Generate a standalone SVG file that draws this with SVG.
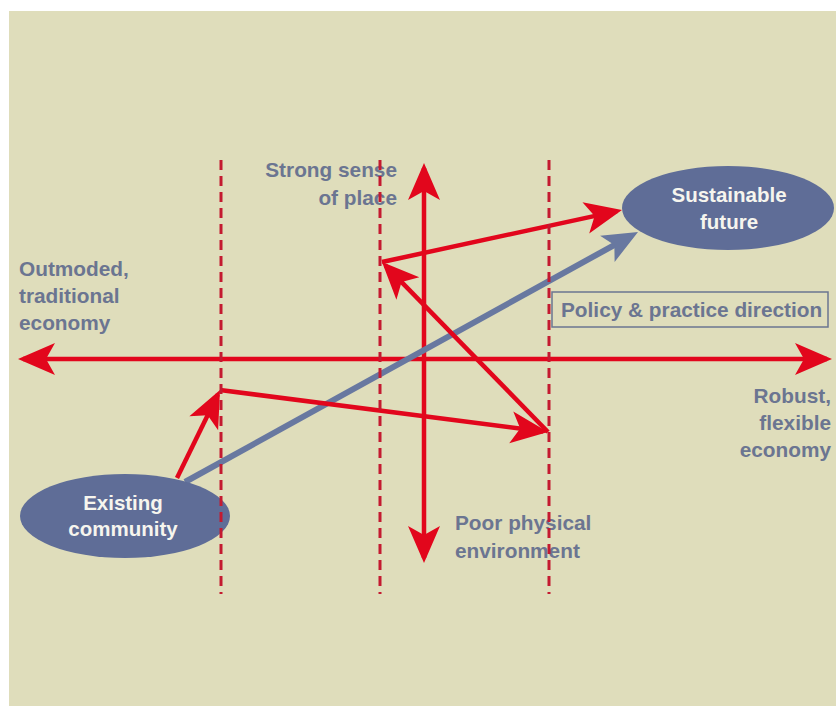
<svg xmlns="http://www.w3.org/2000/svg" width="836" height="706" viewBox="0 0 836 706">
  <style>
    .lbl { font-family: "Liberation Sans", Arial, sans-serif; font-weight: bold; font-size: 20.8px; fill: #6b7591; }
    .ntx { font-family: "Liberation Sans", Arial, sans-serif; font-weight: bold; font-size: 20.5px; fill: #f6f5ee; text-anchor: middle; }
    .axis { stroke: #e2061c; stroke-width: 4.5; fill: none; }
    .red { stroke: #e2061c; stroke-width: 4.5; fill: none; marker-end: url(#hr); }
    .blue { stroke: #6878a0; stroke-width: 6; fill: none; marker-end: url(#hb); }
    .guide { stroke: #c41a30; stroke-width: 3; stroke-dasharray: 10 6; fill: none; }
    .node { fill: #5f6d97; }
  </style>
  <defs>
    <marker id="hr" markerUnits="userSpaceOnUse" viewBox="-40 -20 50 40" refX="0" refY="0" markerWidth="50" markerHeight="40" orient="auto-start-reverse" overflow="visible">
      <path d="M5,0 L-32,-16 L-23,0 L-32,16 Z" fill="#e2061c"/>
    </marker>
    <marker id="hb" markerUnits="userSpaceOnUse" viewBox="-40 -20 50 40" refX="0" refY="0" markerWidth="50" markerHeight="40" orient="auto" overflow="visible">
      <path d="M8,0 L-27,-15 L-19,0 L-27,15 Z" fill="#6878a0"/>
    </marker>
  </defs>

  <rect x="9" y="11" width="827" height="695" fill="#dfddbb"/>

  <g id="axes">
    <line class="axis" x1="23" y1="359" x2="827" y2="359" marker-start="url(#hr)" marker-end="url(#hr)"/>
    <line class="axis" x1="424" y1="168" x2="424" y2="558" marker-start="url(#hr)" marker-end="url(#hr)"/>
  </g>

  <g id="connectors">
    <line class="blue" x1="185" y1="482" x2="631" y2="235.8"/>
    <line class="red" x1="177" y1="478" x2="217.8" y2="394.5"/>
    <line class="red" x1="220" y1="390" x2="543" y2="431.4"/>
    <line class="red" x1="548" y1="432" x2="385.5" y2="265.6"/>
    <line class="red" x1="382" y1="262" x2="617.1" y2="211.1"/>
  </g>

  <g id="existing-community">
    <ellipse class="node" cx="125" cy="516" rx="105" ry="42"/>
    <text class="ntx" x="123" y="510">Existing</text>
    <text class="ntx" x="123" y="536">community</text>
  </g>

  <g id="sustainable-future">
    <ellipse class="node" cx="728" cy="208" rx="106" ry="42"/>
    <text class="ntx" x="729" y="202">Sustainable</text>
    <text class="ntx" x="729" y="229">future</text>
  </g>

  <g id="policy-direction">
    <rect x="552" y="292" width="276" height="35" fill="none" stroke="#6b7591" stroke-width="1.5"/>
    <text class="lbl" x="561" y="317">Policy &amp; practice direction</text>
  </g>

  <g id="label-strong">
    <text class="lbl" x="397" y="177" text-anchor="end">Strong sense</text>
    <text class="lbl" x="397" y="205" text-anchor="end">of place</text>
  </g>

  <g id="label-poor">
    <text class="lbl" x="455" y="530">Poor physical</text>
    <text class="lbl" x="455" y="558">environment</text>
  </g>

  <g id="label-outmoded">
    <text class="lbl" x="19" y="276">Outmoded,</text>
    <text class="lbl" x="19" y="303">traditional</text>
    <text class="lbl" x="19" y="330">economy</text>
  </g>

  <g id="label-robust">
    <text class="lbl" x="831" y="403" text-anchor="end">Robust,</text>
    <text class="lbl" x="831" y="430" text-anchor="end">flexible</text>
    <text class="lbl" x="831" y="457" text-anchor="end">economy</text>
  </g>

  <g id="guides">
    <line class="guide" x1="221" y1="160" x2="221" y2="594"/>
    <line class="guide" x1="380" y1="160" x2="380" y2="594"/>
    <line class="guide" x1="549" y1="160" x2="549" y2="594"/>
  </g>
</svg>
